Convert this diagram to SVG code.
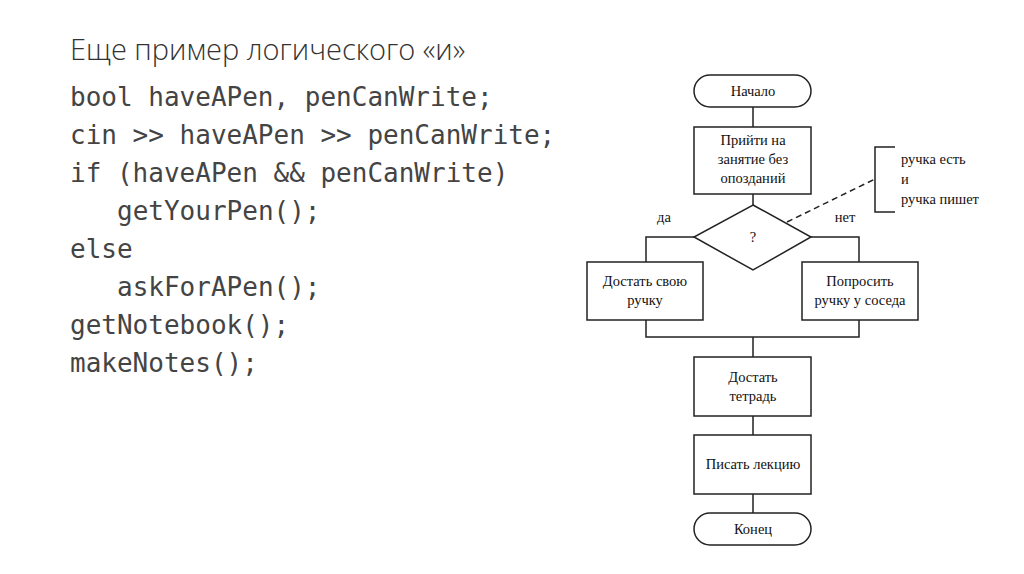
<svg xmlns="http://www.w3.org/2000/svg" width="1024" height="574" viewBox="0 0 1024 574">
<style>
.s{fill:#fff;stroke:#222;stroke-width:1.5}
.t{font-family:"Liberation Serif",serif;font-size:14.5px;fill:#111;text-anchor:middle}
.l{font-family:"Liberation Serif",serif;font-size:14.5px;fill:#111}
.c{font-family:"DejaVu Sans Mono",monospace;font-size:26px;fill:#444}
.e{fill:none;stroke:#222;stroke-width:1.5}
</style>
<rect width="1024" height="574" fill="#fff"/>
<text x="70" y="60" font-family="Open Sans,sans-serif" font-weight="300" font-size="29" fill="#333">Еще пример логического «и»</text>
<g class="c">
<text x="70" y="106">bool haveAPen, penCanWrite;</text>
<text x="70" y="144">cin &gt;&gt; haveAPen &gt;&gt; penCanWrite;</text>
<text x="70" y="182">if (haveAPen &amp;&amp; penCanWrite)</text>
<text x="117" y="220">getYourPen();</text>
<text x="70" y="258">else</text>
<text x="117" y="296">askForAPen();</text>
<text x="70" y="334">getNotebook();</text>
<text x="70" y="372">makeNotes();</text>
</g>
<g id="connectors">
<path class="e" d="M753 107V127M753 194V205M694 237H646V262M811 237H859V262M646 320V337H859V320M753 337V357M753 416V435M753 494V513"/>
<path class="e" d="M787 222L875 179" stroke-dasharray="6,4"/>
<path class="e" d="M895 147H875V212H895"/>
</g>
<g id="start"><rect class="s" x="694" y="75" width="117" height="32" rx="16"/><text class="t" x="753" y="96">Начало</text></g>
<g id="arrive"><rect class="s" x="694" y="127" width="117" height="67"/><text class="t" x="753" y="145">Прийти на</text><text class="t" x="753" y="164">занятие без</text><text class="t" x="753" y="183">опозданий</text></g>
<g id="cond"><polygon class="s" points="753,205 811,237 753,270 694,237"/><text class="t" x="753" y="242">?</text></g>
<g id="own"><rect class="s" x="587" y="262" width="116" height="58"/><text class="t" x="645" y="286">Достать свою</text><text class="t" x="645" y="305">ручку</text></g>
<g id="ask"><rect class="s" x="802" y="262" width="116" height="58"/><text class="t" x="860" y="286">Попросить</text><text class="t" x="860" y="305">ручку у соседа</text></g>
<g id="notebook"><rect class="s" x="694" y="357" width="117" height="59"/><text class="t" x="753" y="382">Достать</text><text class="t" x="753" y="401">тетрадь</text></g>
<g id="write"><rect class="s" x="694" y="435" width="117" height="59"/><text class="t" x="753" y="469">Писать лекцию</text></g>
<g id="end"><rect class="s" x="694" y="513" width="117" height="32" rx="16"/><text class="t" x="753" y="534">Конец</text></g>
<g id="labels">
<text class="t" x="664" y="222">да</text><text class="t" x="845" y="222">нет</text>
<text class="l" x="901" y="164">ручка есть</text><text class="l" x="901" y="184">и</text><text class="l" x="901" y="204">ручка пишет</text>
</g>
</svg>
